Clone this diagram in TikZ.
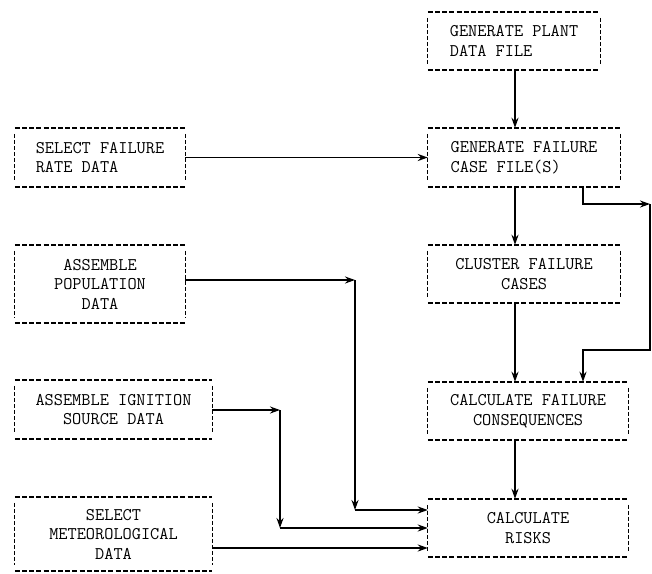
\documentclass[tikz,border=0pt]{standalone}
\usetikzlibrary{arrows.meta}

\begin{document}
\begin{tikzpicture}[x=1pt,y=-1pt,
 stage/.style={inner sep=0pt,font=\ttfamily\fontsize{17.8}{19.5}\selectfont},
 rim/.style={line width=2pt,dash pattern=on 5pt off 2.2pt},
 side/.style={line width=1.1pt,dash pattern=on 4pt off 2pt,shorten <=6pt,shorten >=6pt},
 flow/.style={line width=1.9pt,-{Stealth[length=10pt,width=7pt]}}]
\useasboundingbox (0,0) rectangle (652,573);

% right column
\node[stage,minimum width=172pt,minimum height=58pt,align=left] (plant) at (514,41) {GENERATE PLANT\\DATA FILE};
\node[stage,minimum width=192pt,minimum height=59pt,align=left] (fcase) at (524,157.5) {GENERATE FAILURE\\CASE FILE(S)};
\node[stage,minimum width=192pt,minimum height=58pt,align=center] (cluster) at (524,274) {CLUSTER FAILURE\\CASES};
\node[stage,minimum width=200pt,minimum height=58pt,align=center] (conseq) at (528,411) {CALCULATE FAILURE\\CONSEQUENCES};
\node[stage,minimum width=200pt,minimum height=58pt,align=center] (risks) at (528,528) {CALCULATE\\RISKS};

% left column
\node[stage,minimum width=170pt,minimum height=59pt,align=left] (rate) at (100,157.5) {SELECT FAILURE\\RATE DATA};
\node[stage,minimum width=170pt,minimum height=78pt,align=center] (pop) at (100,284) {ASSEMBLE\\POPULATION\\DATA};
\node[stage,minimum width=197pt,minimum height=59pt,align=center] (ign) at (113.5,409.5) {ASSEMBLE IGNITION\\SOURCE DATA};
\node[stage,minimum width=197pt,minimum height=74pt,align=center] (met) at (113.5,534) {SELECT\\METEOROLOGICAL\\DATA};

% dashed frames
\foreach \n in {plant,fcase,cluster,conseq,risks,rate,pop,ign,met}{
 \draw[rim] (\n.north west) -- (\n.north east) (\n.south west) -- (\n.south east);
 \draw[side] (\n.north west) -- (\n.south west);
 \draw[side] (\n.north east) -- (\n.south east);
}

% main chain
\coordinate (spine) at (515,0);
\draw[flow] (plant.south -| spine) -- (fcase.north -| spine);
\draw[flow] (fcase.south -| spine) -- (cluster.north -| spine);
\draw[flow] (cluster.south -| spine) -- (conseq.north -| spine);
\draw[flow] (conseq.south -| spine) -- (risks.north -| spine);

% bypass of clustering
\coordinate (tap) at (583,204);
\coordinate (loop) at (650,204);
\coordinate (back) at (650,350);
\draw[flow] (fcase.south -| tap) |- (loop);
\draw[flow] (loop) -- (back) -| (conseq.north -| tap);

% inputs
\draw[flow] (rate.east) -- (fcase.west);
\coordinate (popc) at (355,280);
\coordinate (popd) at (355,510);
\draw[flow] (pop.east |- popc) -- (popc);
\draw[flow] (popc) -- (popd);
\draw[flow] (popd) -- (popd -| risks.west);
\coordinate (ignc) at (280,410);
\coordinate (ignd) at (280,528);
\draw[flow] (ign.east |- ignc) -- (ignc);
\draw[flow] (ignc) -- (ignd);
\draw[flow] (ignd) -- (ignd -| risks.west);
\coordinate (metin) at (215,548);
\draw[flow] (met.east |- metin) -- (risks.west |- metin);
\end{tikzpicture}
\end{document}
